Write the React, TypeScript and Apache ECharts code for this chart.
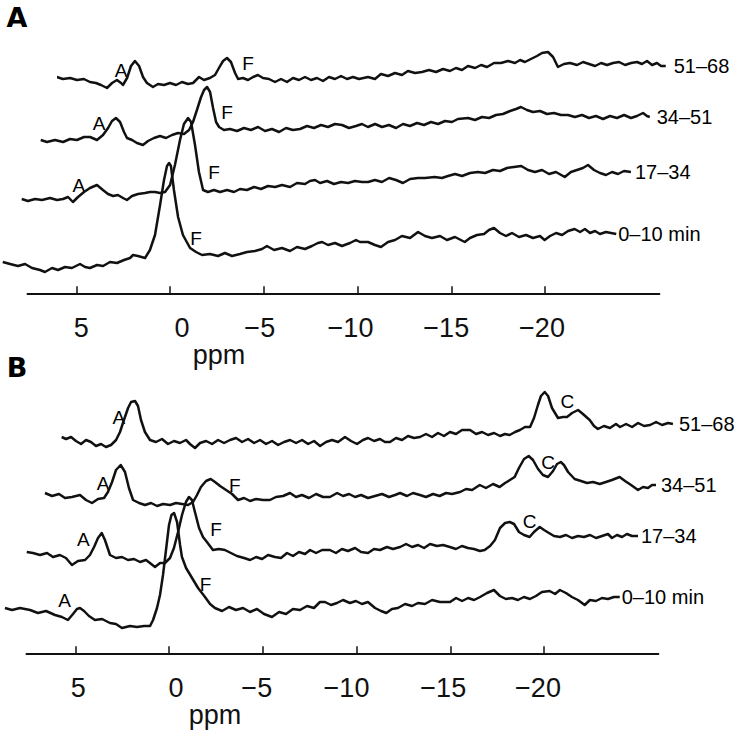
import React, { useEffect, useRef } from 'react';
import * as echarts from 'echarts';

const FONT = '"Liberation Sans", Arial, Helvetica, sans-serif';
const INK = '#111';

// ppm axis
const TICK_VALUES = [5, 0, -5, -10, -15, -20];
const TICK_LABELS = ['5', '0', '−5', '−10', '−15', '−20'];
const LAYER_LABELS = ['0–10 min', '17–34', '34–51', '51–68'];

// ---------- Panel A spectra: [ppm, intensity] ----------
const A_0_10: number[][] = [
  [8.92, 8], [8.53, 6], [8.11, 4], [7.73, 6], [7.36, 2], [6.93, 0], [6.67, -2], [6.29, 2], [5.97, 0], [5.6, 3], [5.23, 2], [4.8, 6], [4.53, 3], [4.27, 2], [3.89, 5], [3.57, 4], [3.2, 8], [2.83, 7], [2.45, 10], [2.13, 12], [1.97, 15], [1.71, 14], [1.33, 12], [1.07, 20], [0.8, 35], [0.53, 65], [0.32, 90], [0.16, 104], [0.05, 107], [-0.05, 104], [-0.21, 80], [-0.43, 53], [-0.69, 35], [-1.07, 22], [-1.39, 18], [-1.71, 15], [-2.13, 16], [-2.56, 14], [-2.93, 17], [-3.31, 14], [-3.73, 16], [-4.11, 18], [-4.53, 19], [-4.91, 21], [-5.17, 24], [-5.55, 20], [-5.97, 22], [-6.4, 19], [-6.77, 23], [-7.2, 21], [-7.57, 24], [-7.89, 27], [-8.11, 28], [-8.43, 25], [-8.8, 27], [-9.17, 24], [-9.6, 27], [-9.92, 30], [-10.13, 28], [-10.56, 28], [-10.93, 25], [-11.25, 23], [-11.63, 28], [-12.0, 30], [-12.37, 34], [-12.8, 32], [-13.23, 38], [-13.6, 34], [-13.97, 32], [-14.4, 34], [-14.77, 30], [-15.2, 33], [-15.72, 28], [-16.0, 32], [-16.37, 35], [-16.75, 36], [-17.01, 40], [-17.28, 42], [-17.6, 37], [-17.92, 34], [-18.24, 37], [-18.61, 33], [-18.99, 35], [-19.36, 32], [-19.73, 34], [-19.98, 30], [-20.27, 34], [-20.59, 37], [-20.91, 35], [-21.23, 39], [-21.58, 41], [-21.87, 38], [-22.13, 41], [-22.4, 37], [-22.67, 39], [-22.93, 36], [-23.25, 38], [-23.52, 37], [-23.8, 36],
];
const A_17_34: number[][] = [
  [8.92, 6], [8.59, 4], [8.21, 6], [7.84, 5], [7.41, 7], [7.04, 5], [6.72, 6], [6.45, 8], [6.19, 3], [5.92, 8], [5.6, 13], [5.28, 17], [4.91, 20], [4.59, 15], [4.32, 11], [4.05, 9], [3.79, 10], [3.52, 7], [3.31, 5], [3.04, 9], [2.72, 11], [2.35, 12], [2.08, 13], [1.81, 13], [1.55, 12], [1.28, 13], [1.01, 20], [0.75, 40], [0.48, 65], [0.27, 81], [0.05, 87], [-0.11, 83], [-0.32, 60], [-0.53, 33], [-0.75, 15], [-1.01, 13], [-1.33, 15], [-1.65, 13], [-2.03, 15], [-2.4, 13], [-2.72, 16], [-3.09, 15], [-3.47, 18], [-3.84, 16], [-4.21, 19], [-4.59, 18], [-4.96, 20], [-5.39, 18], [-5.76, 22], [-6.19, 21], [-6.45, 24], [-6.72, 25], [-6.99, 22], [-7.36, 24], [-7.73, 21], [-8.11, 23], [-8.48, 22], [-8.85, 24], [-9.23, 23], [-9.55, 23], [-9.92, 25], [-10.29, 23], [-10.67, 27], [-11.04, 25], [-11.41, 22], [-11.79, 26], [-12.21, 27], [-12.59, 27], [-13.1, 28], [-13.49, 27], [-13.81, 29], [-14.19, 31], [-14.56, 29], [-14.99, 32], [-15.41, 33], [-15.79, 32], [-16.21, 35], [-16.59, 34], [-16.96, 37], [-17.33, 38], [-17.72, 39], [-18.08, 35], [-18.45, 33], [-18.83, 35], [-19.2, 31], [-19.57, 33], [-20.04, 28], [-20.37, 33], [-20.69, 35], [-21.01, 37], [-21.28, 40], [-21.6, 35], [-21.92, 32], [-22.24, 30], [-22.56, 33], [-22.88, 31], [-23.2, 34], [-23.57, 33],
];
const A_34_51: number[][] = [
  [8.92, 6], [8.59, 4], [8.16, 6], [7.73, 4], [7.36, 7], [6.99, 6], [6.61, 9], [6.29, 9], [5.92, 6], [5.6, 11], [5.33, 18], [5.12, 25], [4.91, 28], [4.69, 24], [4.48, 14], [4.32, 8], [4.05, 6], [3.79, 3], [3.47, 1], [3.2, 5], [2.88, 8], [2.56, 10], [2.24, 8], [1.92, 11], [1.6, 13], [1.28, 12], [1.01, 16], [0.8, 24], [0.59, 36], [0.37, 49], [0.21, 56], [0.05, 59], [-0.11, 54], [-0.27, 38], [-0.43, 24], [-0.59, 19], [-0.85, 16], [-1.17, 17], [-1.55, 15], [-1.92, 18], [-2.29, 16], [-2.67, 19], [-3.04, 15], [-3.41, 17], [-3.79, 14], [-4.16, 18], [-4.53, 16], [-4.91, 17], [-5.28, 20], [-5.65, 18], [-6.03, 21], [-6.4, 19], [-6.77, 22], [-7.15, 21], [-7.52, 18], [-7.89, 20], [-8.21, 22], [-8.53, 19], [-8.91, 22], [-9.28, 19], [-9.65, 21], [-10.03, 18], [-10.4, 22], [-10.77, 20], [-11.15, 23], [-11.52, 21], [-11.89, 24], [-12.27, 22], [-12.64, 25], [-13.01, 24], [-13.33, 27], [-13.87, 28], [-14.24, 26], [-14.61, 29], [-14.99, 28], [-15.36, 31], [-15.73, 32], [-16.11, 35], [-16.43, 37], [-16.69, 39], [-17.01, 36], [-17.33, 34], [-17.71, 35], [-18.08, 32], [-18.45, 33], [-18.83, 31], [-19.2, 31], [-19.57, 29], [-19.95, 31], [-20.32, 28], [-20.69, 30], [-21.07, 27], [-21.44, 30], [-21.81, 28], [-22.19, 31], [-22.56, 28], [-22.88, 30], [-23.2, 33], [-23.41, 30], [-23.56, 29],
];
const A_51_68: number[][] = [
  [9.08, 13], [8.75, 11], [8.37, 12], [8.0, 10], [7.63, 11], [7.31, 8], [6.99, 7], [6.72, 5], [6.4, 2], [6.13, 7], [5.87, 10], [5.65, 7], [5.55, 5], [5.33, 12], [5.12, 24], [4.91, 29], [4.69, 24], [4.48, 13], [4.27, 7], [3.95, 3], [3.68, 6], [3.36, 5], [3.04, 7], [2.72, 5], [2.4, 8], [2.08, 6], [1.81, 7], [1.49, 13], [1.23, 10], [0.91, 12], [0.64, 15], [0.43, 22], [0.21, 29], [0, 32], [-0.21, 28], [-0.43, 17], [-0.59, 11], [-0.85, 12], [-1.12, 10], [-1.39, 13], [-1.65, 15], [-1.92, 12], [-2.24, 11], [-2.56, 8], [-2.88, 11], [-3.2, 8], [-3.52, 12], [-3.84, 10], [-4.16, 13], [-4.48, 10], [-4.8, 12], [-5.12, 9], [-5.44, 13], [-5.76, 11], [-6.08, 14], [-6.4, 11], [-6.72, 13], [-7.04, 11], [-7.52, 13], [-7.89, 11], [-8.21, 16], [-8.59, 14], [-8.96, 17], [-9.33, 15], [-9.65, 19], [-10.03, 17], [-10.4, 18], [-10.77, 20], [-11.15, 18], [-11.52, 21], [-11.89, 19], [-12.21, 22], [-12.53, 20], [-12.85, 24], [-13.23, 22], [-13.55, 25], [-13.87, 23], [-14.24, 27], [-14.61, 27], [-14.99, 29], [-15.36, 27], [-15.63, 30], [-15.89, 28], [-16.21, 31], [-16.53, 34], [-16.8, 37], [-17.12, 38], [-17.39, 33], [-17.65, 23], [-17.97, 26], [-18.29, 27], [-18.67, 25], [-18.99, 28], [-19.31, 26], [-19.63, 24], [-19.95, 27], [-20.27, 25], [-20.59, 27], [-20.91, 28], [-21.23, 25], [-21.55, 27], [-21.87, 28], [-22.13, 26], [-22.4, 29], [-22.67, 25], [-22.93, 27], [-23.15, 24], [-23.4, 24],
];

// ---------- Panel B spectra ----------
const B_0_10: number[][] = [
  [8.75, 22], [8.37, 20], [7.95, 22], [7.41, 20], [6.99, 17], [6.56, 19], [6.08, 15], [5.71, 13], [5.39, 10], [5.12, 16], [4.91, 21], [4.75, 22], [4.53, 19], [4.27, 14], [3.95, 10], [3.57, 11], [3.15, 7], [2.83, 6], [2.51, 2], [2.08, 4], [1.71, 3], [1.33, 4], [1.01, 4], [0.85, 10], [0.64, 22], [0.48, 35], [0.32, 55], [0.16, 80], [0, 105], [-0.13, 115], [-0.27, 117], [-0.43, 108], [-0.59, 85], [-0.69, 73], [-0.91, 62], [-1.23, 52], [-1.55, 42], [-1.92, 33], [-2.19, 26], [-2.45, 22], [-2.83, 19], [-3.2, 23], [-3.57, 20], [-3.95, 22], [-4.32, 18], [-4.69, 21], [-5.07, 16], [-5.49, 13], [-5.87, 18], [-6.24, 16], [-6.61, 21], [-6.99, 20], [-7.36, 24], [-7.73, 22], [-8.05, 28], [-8.32, 28], [-8.64, 25], [-8.96, 27], [-9.28, 30], [-9.65, 27], [-9.97, 29], [-10.29, 26], [-10.61, 28], [-10.99, 22], [-11.31, 19], [-11.59, 17], [-11.89, 21], [-12.21, 22], [-12.59, 26], [-12.96, 24], [-13.28, 27], [-13.65, 26], [-14.03, 30], [-14.45, 28], [-14.99, 28], [-15.31, 32], [-15.63, 29], [-15.95, 32], [-16.27, 30], [-16.59, 33], [-16.96, 37], [-17.33, 40], [-17.65, 34], [-17.97, 31], [-18.29, 32], [-18.61, 30], [-18.93, 33], [-19.25, 31], [-19.57, 34], [-19.89, 38], [-20.3, 39], [-20.59, 36], [-20.85, 40], [-21.17, 37], [-21.49, 33], [-21.81, 30], [-22.17, 25], [-22.45, 30], [-22.77, 29], [-23.09, 32], [-23.41, 31], [-23.73, 33], [-24.04, 33],
];
const B_17_34: number[][] = [
  [8.6, 18], [8.27, 17], [7.89, 15], [7.52, 17], [7.2, 13], [6.83, 15], [6.51, 12], [6.19, 5], [5.87, 9], [5.49, 10], [5.23, 15], [5.01, 23], [4.8, 32], [4.6, 37], [4.43, 30], [4.16, 15], [3.84, 12], [3.52, 13], [3.2, 10], [2.88, 11], [2.56, 8], [2.24, 10], [2.03, 7], [1.76, 3], [1.49, 7], [1.23, 7], [0.96, 12], [0.75, 22], [0.53, 38], [0.32, 55], [0.11, 68], [-0.05, 73], [-0.21, 70], [-0.37, 58], [-0.59, 42], [-0.8, 33], [-1.01, 28], [-1.33, 20], [-1.65, 21], [-1.97, 20], [-2.29, 17], [-2.61, 14], [-2.99, 12], [-3.31, 10], [-3.63, 13], [-3.95, 11], [-4.27, 15], [-4.64, 13], [-4.96, 12], [-5.28, 17], [-5.6, 14], [-5.92, 18], [-6.24, 16], [-6.51, 20], [-6.83, 17], [-7.15, 20], [-7.57, 20], [-7.89, 17], [-8.21, 21], [-8.53, 19], [-8.91, 22], [-9.23, 18], [-9.6, 17], [-9.92, 21], [-10.24, 20], [-10.61, 23], [-10.93, 21], [-11.31, 23], [-11.63, 26], [-11.95, 23], [-12.27, 25], [-12.59, 22], [-12.91, 26], [-13.28, 24], [-13.6, 25], [-13.97, 23], [-14.29, 21], [-14.61, 24], [-14.93, 22], [-15.25, 21], [-15.57, 19], [-15.82, 20], [-16.11, 24], [-16.37, 30], [-16.64, 42], [-16.91, 47], [-17.16, 48], [-17.39, 46], [-17.65, 38], [-17.92, 35], [-18.22, 33], [-18.45, 38], [-18.76, 43], [-18.99, 40], [-19.25, 37], [-19.52, 34], [-19.84, 33], [-20.16, 35], [-20.48, 32], [-20.8, 34], [-21.12, 33], [-21.44, 35], [-21.76, 32], [-22.08, 34], [-22.4, 36], [-22.61, 32], [-22.88, 35], [-23.15, 33], [-23.41, 36], [-23.68, 34], [-24.0, 34],
];
const B_34_51: number[][] = [
  [8.59, 15], [8.21, 12], [7.84, 14], [7.52, 10], [7.15, 11], [6.72, 13], [6.4, 8], [6.08, 5], [5.76, 9], [5.44, 10], [5.23, 16], [5.01, 26], [4.8, 38], [4.55, 43], [4.32, 36], [4.11, 20], [3.89, 8], [3.57, 5], [3.25, 3], [2.93, 5], [2.61, 2], [2.29, 4], [1.92, 3], [1.6, 5], [1.28, 4], [0.96, 3], [0.69, 6], [0.48, 13], [0.27, 21], [0, 27], [-0.25, 29], [-0.48, 26], [-0.75, 22], [-1.07, 18], [-1.39, 14], [-1.71, 8], [-2.03, 10], [-2.35, 7], [-2.67, 9], [-3.04, 8], [-3.41, 8], [-3.73, 11], [-4.11, 12], [-4.48, 15], [-4.8, 11], [-5.12, 13], [-5.49, 10], [-5.87, 14], [-6.24, 11], [-6.61, 11], [-6.99, 15], [-7.31, 12], [-7.63, 14], [-7.95, 11], [-8.27, 13], [-8.64, 10], [-9.01, 12], [-9.39, 14], [-9.76, 11], [-10.08, 13], [-10.35, 15], [-10.72, 12], [-11.04, 15], [-11.41, 13], [-11.73, 11], [-12.11, 14], [-12.46, 12], [-12.8, 15], [-13.12, 14], [-13.55, 16], [-13.87, 19], [-14.19, 18], [-14.6, 23], [-14.93, 20], [-15.31, 24], [-15.66, 21], [-15.95, 25], [-16.21, 28], [-16.46, 31], [-16.69, 40], [-16.96, 49], [-17.21, 52], [-17.44, 48], [-17.71, 39], [-17.97, 33], [-18.24, 31], [-18.51, 37], [-18.72, 44], [-18.92, 46], [-19.09, 43], [-19.31, 36], [-19.66, 29], [-20.0, 27], [-20.32, 25], [-20.64, 26], [-21.0, 24], [-21.33, 26], [-21.65, 28], [-22.06, 31], [-22.35, 27], [-22.67, 23], [-23.04, 18], [-23.31, 21], [-23.57, 20], [-23.79, 23], [-24.0, 23],
];
const B_51_68: number[][] = [
  [8.71, 13], [8.48, 11], [8.21, 13], [7.95, 9], [7.68, 6], [7.41, 10], [7.15, 8], [6.88, 4], [6.61, 6], [6.35, 3], [6.08, 5], [5.81, 10], [5.6, 18], [5.39, 30], [5.17, 42], [5.01, 48], [4.8, 49], [4.64, 44], [4.48, 30], [4.27, 18], [4.0, 10], [3.68, 8], [3.36, 11], [3.04, 6], [2.72, 9], [2.4, 7], [2.08, 10], [1.87, 6], [1.6, 2], [1.33, 7], [1.01, 9], [0.69, 6], [0.37, 10], [0.05, 7], [-0.27, 10], [-0.59, 12], [-0.91, 8], [-1.23, 11], [-1.55, 7], [-1.87, 10], [-2.19, 6], [-2.51, 9], [-2.83, 5], [-3.15, 8], [-3.47, 10], [-3.79, 7], [-4.11, 10], [-4.43, 6], [-4.75, 9], [-5.07, 4], [-5.39, 8], [-5.71, 10], [-6.03, 8], [-6.4, 13], [-6.72, 9], [-7.04, 6], [-7.36, 10], [-7.63, 12], [-7.95, 9], [-8.27, 11], [-8.53, 8], [-8.8, 8], [-9.12, 12], [-9.44, 10], [-9.76, 14], [-10.08, 12], [-10.4, 13], [-10.72, 16], [-11.04, 13], [-11.36, 17], [-11.68, 14], [-12.0, 18], [-12.32, 16], [-12.64, 20], [-13.07, 20], [-13.39, 16], [-13.71, 18], [-14.03, 15], [-14.35, 17], [-14.67, 14], [-14.93, 16], [-15.18, 15], [-15.47, 18], [-15.73, 20], [-16.0, 23], [-16.27, 23], [-16.48, 32], [-16.69, 45], [-16.85, 54], [-17.05, 58], [-17.23, 54], [-17.44, 42], [-17.76, 32], [-18.03, 33], [-18.24, 33], [-18.51, 37], [-18.83, 40], [-19.09, 36], [-19.45, 30], [-19.68, 24], [-19.89, 21], [-20.21, 24], [-20.53, 22], [-20.85, 26], [-21.07, 23], [-21.39, 26], [-21.71, 23], [-22.03, 27], [-22.35, 24], [-22.67, 25], [-22.99, 28], [-23.31, 25], [-23.63, 27], [-23.89, 26],
];

// ---------- peak annotations: [ppm, intensity, label] ----------
type Note = [number, number, string];
const A_NOTES: Note[][] = [
  [[-1.39, 32, 'F']],
  [[5.87, 20, 'A'], [-1.33, 33, 'F']],
  [[5.81, 23, 'A'], [-1.01, 34, 'F']],
  [[5.65, 20, 'A'], [-1.12, 27, 'F']],
];
const B_NOTES: Note[][] = [
  [[5.57, 30, 'A'], [-1.95, 46, 'F']],
  [[5.58, 31, 'A'], [-1.49, 41, 'F'], [-18.22, 49, 'C']],
  [[5.49, 25, 'A'], [-1.53, 23, 'F'], [-18.24, 46, 'C']],
  [[5.66, 33, 'A'], [-18.26, 49, 'C']],
];

// ---------- layout (positions only) ----------
const S = 18.75; // px per ppm
const X_MIN = -24.5;
const X_MAX = 9.0;
const AX_MIN = -26.1;
const AX_MAX = 7.6;

const PANELS = [
  {
    letter: 'A', letterY: 17.5, x0: 170, axisY: 293.3, top: 0,
    refs: [270, 205, 146, 90], dx: [0, 19, 38, 57], endGap: [2, 4, 7, 8],
    tickShift: [5, 12, -4, -7, -5, -3], ppmX: 219, ppmY: 355,
    spectra: [A_0_10, A_17_34, A_34_51, A_51_68], notes: A_NOTES,
  },
  {
    letter: 'B', letterY: 367.5, x0: 169, axisY: 653.3, top: 360,
    refs: [630, 570, 508, 450], dx: [0, 19, 37, 56], endGap: [2, 3, 5, 6],
    tickShift: [3, 7, -6, -10, -7, -6], ppmX: 215, ppmY: 715,
    spectra: [B_0_10, B_17_34, B_34_51, B_51_68], notes: B_NOTES,
  },
];

function buildOption() {
  const grid: any[] = [];
  const xAxis: any[] = [];
  const yAxis: any[] = [];
  const series: any[] = [];
  const graphic: any[] = [];

  PANELS.forEach((p) => {
    // visible ppm axis
    const gi = grid.length;
    grid.push({ left: p.x0 - S * AX_MAX, top: p.axisY - 10, width: S * (AX_MAX - AX_MIN), height: 10 });
    const rich: any = {};
    TICK_VALUES.forEach((_, i) => {
      const off = p.tickShift[i];
      rich['t' + i] = {
        fontSize: 27, color: INK, fontFamily: FONT,
        padding: [0, Math.max(0, -2 * off), 0, Math.max(0, 2 * off)],
      };
    });
    xAxis.push({
      gridIndex: gi, type: 'value', min: AX_MIN, max: AX_MAX, inverse: true,
      axisLine: { show: true, lineStyle: { color: INK, width: 2 } },
      axisTick: { show: true, inside: true, length: 7, lineStyle: { color: INK, width: 1.5 }, customValues: TICK_VALUES },
      axisLabel: {
        show: true, customValues: TICK_VALUES, margin: 21, fontSize: 27, color: INK, fontFamily: FONT,
        formatter: (v: number) => {
          const i = TICK_VALUES.indexOf(Math.round(v));
          return i < 0 ? '' : `{t${i}|${TICK_LABELS[i]}}`;
        },
        rich,
      },
      splitLine: { show: false },
    });
    yAxis.push({ gridIndex: gi, type: 'value', show: false, min: 0, max: 1 });

    // stacked spectra, one grid per layer (offset backwards)
    p.spectra.forEach((data, k) => {
      const g = grid.length;
      const yMax = p.refs[k] - p.top;
      grid.push({
        left: p.x0 + p.dx[k] - S * X_MAX, top: p.top,
        width: S * (X_MAX - X_MIN), height: yMax + 10,
      });
      xAxis.push({ gridIndex: g, type: 'value', min: X_MIN, max: X_MAX, inverse: true, show: false });
      yAxis.push({ gridIndex: g, type: 'value', min: -10, max: yMax, show: false });
      series.push({
        type: 'line', xAxisIndex: g, yAxisIndex: g, data,
        symbol: 'none', showSymbol: false, clip: false, silent: true,
        lineStyle: { color: INK, width: 2.5, join: 'round' },
      });
      // peak letters
      series.push({
        type: 'scatter', xAxisIndex: g, yAxisIndex: g, silent: true, clip: false,
        symbolSize: 0, itemStyle: { color: INK, opacity: 1 },
        data: p.notes[k].map((n) => ({ value: [n[0], n[1]], name: n[2] })),
        label: {
          show: true, position: 'inside', formatter: '{b}', fontSize: 19, color: '#000',
          opacity: 1, fontFamily: FONT,
        },
      });
      // time-window label at the end of the trace
      const last = data[data.length - 1];
      series.push({
        type: 'scatter', xAxisIndex: g, yAxisIndex: g, silent: true, clip: false,
        symbolSize: 0, itemStyle: { color: INK, opacity: 1 },
        data: [{ value: [last[0], last[1]], name: LAYER_LABELS[k] }],
        label: {
          show: true, position: 'right', distance: p.endGap[k], formatter: '{b}', fontSize: 20,
          color: '#000', opacity: 1, fontFamily: FONT,
        },
      });
    });

    graphic.push({
      type: 'text', x: 17, y: p.letterY,
      style: {
        text: p.letter, fontSize: 27, fontWeight: 'bold', fontFamily: '"DejaVu Sans", Arial, sans-serif', fill: '#000',
        align: 'center', verticalAlign: 'middle', textAlign: 'center', textVerticalAlign: 'middle',
      },
    });
    graphic.push({
      type: 'text', x: p.ppmX, y: p.ppmY,
      style: {
        text: 'ppm', fontSize: 27, fontFamily: FONT, fill: INK,
        align: 'center', verticalAlign: 'middle', textAlign: 'center', textVerticalAlign: 'middle',
      },
    });
  });

  return {
    animation: false,
    backgroundColor: '#ffffff',
    textStyle: { fontFamily: FONT },
    grid, xAxis, yAxis, series, graphic,
  };
}

export default function App() {
  const ref = useRef<HTMLDivElement>(null);
  useEffect(() => {
    if (!ref.current) return;
    const chart = echarts.init(ref.current, null, { renderer: 'svg' });
    chart.setOption(buildOption() as any);
    return () => chart.dispose();
  }, []);
  return (
    <div
      ref={ref}
      style={{ position: 'fixed', left: 0, top: 0, width: 736, height: 730, background: '#fff' }}
    />
  );
}
